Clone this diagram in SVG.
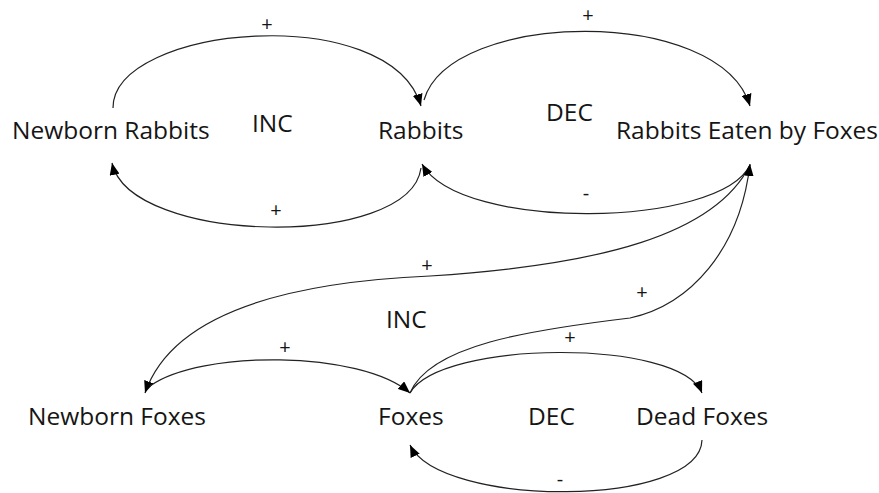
<svg xmlns="http://www.w3.org/2000/svg" width="879" height="493" viewBox="0 0 879 493">
  <defs>
    <style>
      .lbl { font-family: "Open Sans", "Liberation Sans", sans-serif; font-size: 24.5px; fill: #151515; }
      .sgn { font-family: "Open Sans", "Liberation Sans", sans-serif; font-size: 20px; fill: #151515; text-anchor: middle; }
      .edge { fill: none; stroke: #222; stroke-width: 1.2; }
    </style>
    <marker id="arr" viewBox="0 0 12 10" refX="12" refY="5" markerWidth="12" markerHeight="10" markerUnits="userSpaceOnUse" orient="auto">
      <path d="M0,0 L12,5 L0,10 Z" fill="#000"/>
    </marker>
  </defs>
  <rect width="879" height="493" fill="#fff"/>

  <g id="connectors">
    <!-- Newborn Rabbits -> Rabbits -->
    <path class="edge" d="M113,108 C113,25 390,0 421,106" marker-end="url(#arr)"/>
    <!-- Rabbits -> Newborn Rabbits -->
    <path class="edge" d="M421,168 C410,250 130,245 112,163" marker-end="url(#arr)"/>
    <!-- Rabbits -> Rabbits Eaten by Foxes -->
    <path class="edge" d="M424,100 C450,10 720,5 750,106" marker-end="url(#arr)"/>
    <!-- Rabbits Eaten by Foxes -> Rabbits -->
    <path class="edge" d="M750,165 C720,228 460,232 422,164" marker-end="url(#arr)"/>
    <!-- Rabbits Eaten by Foxes -> Newborn Foxes -->
    <path class="edge" d="M750,165 C715,235 600,265 430,276 C270,283 170,320 145,393" marker-end="url(#arr)"/>
    <!-- Foxes -> Rabbits Eaten by Foxes -->
    <path class="edge" d="M410,393 C430,345 530,330 630,318 C690,305 740,250 750,164" marker-end="url(#arr)"/>
    <!-- Newborn Foxes -> Foxes -->
    <path class="edge" d="M150,386 C200,350 360,350 410,393" marker-end="url(#arr)"/>
    <!-- Foxes -> Dead Foxes -->
    <path class="edge" d="M410,393 C440,340 680,338 702,393" marker-end="url(#arr)"/>
    <!-- Dead Foxes -> Foxes -->
    <path class="edge" d="M702,440 C700,508 440,508 410,445" marker-end="url(#arr)"/>

    <text class="sgn" x="267" y="31">+</text>
    <text class="sgn" x="276" y="217">+</text>
    <text class="sgn" x="588" y="22">+</text>
    <text class="sgn" x="586" y="200">-</text>
    <text class="sgn" x="427" y="272">+</text>
    <text class="sgn" x="642" y="299">+</text>
    <text class="sgn" x="285" y="354">+</text>
    <text class="sgn" x="570" y="344">+</text>
    <text class="sgn" x="560" y="486">-</text>
  </g>

  <g id="loop-inc-rabbits"><text class="lbl" x="252" y="132">INC</text></g>
  <g id="loop-dec-rabbits"><text class="lbl" x="546" y="121">DEC</text></g>
  <g id="loop-inc-foxes"><text class="lbl" x="386" y="328">INC</text></g>
  <g id="loop-dec-foxes"><text class="lbl" x="528" y="425">DEC</text></g>

  <g id="node-newborn-rabbits"><text class="lbl" x="12" y="139">Newborn Rabbits</text></g>
  <g id="node-rabbits"><text class="lbl" x="378" y="139">Rabbits</text></g>
  <g id="node-rabbits-eaten"><text class="lbl" x="616" y="139">Rabbits Eaten by Foxes</text></g>
  <g id="node-newborn-foxes"><text class="lbl" x="28" y="425">Newborn Foxes</text></g>
  <g id="node-foxes"><text class="lbl" x="378" y="425">Foxes</text></g>
  <g id="node-dead-foxes"><text class="lbl" x="636" y="425">Dead Foxes</text></g>
</svg>
